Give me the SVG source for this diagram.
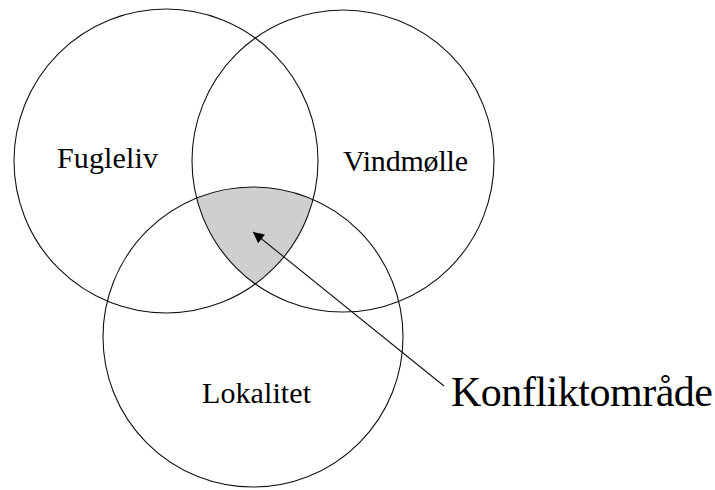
<svg xmlns="http://www.w3.org/2000/svg" width="715" height="490" viewBox="0 0 715 490">
<style>
.c{fill:none;stroke:#111;stroke-width:1.1}
.t{font-family:"Liberation Serif","Times New Roman",serif;fill:#000}
.l{font-size:30px}
</style>
<defs>
<marker id="ah" viewBox="0 0 10 10" refX="10" refY="5" markerWidth="16" markerHeight="11" markerUnits="userSpaceOnUse" orient="auto">
<path d="M0,0 L10,5 L0,10 z" fill="#000"/>
</marker>
</defs>
<rect width="715" height="490" fill="#fff"/>
<g id="conflict">
<path d="M196.6,198 A150,150 0 0 1 313,199.5 A152,152 0 0 1 254.5,284.6 A151,151 0 0 1 196.6,198 Z" fill="#cfcfcf"/>
</g>
<g id="fugleliv">
<circle class="c" cx="166" cy="161" r="152"/>
<text class="t l" x="57" y="168" textLength="101">Fugleliv</text>
</g>
<g id="vindmolle">
<circle class="c" cx="343" cy="161" r="151"/>
<text class="t l" x="343" y="171" textLength="125">Vindmølle</text>
</g>
<g id="lokalitet">
<circle class="c" cx="253" cy="337" r="150"/>
<text class="t l" x="202" y="403" textLength="109">Lokalitet</text>
</g>
<g id="konfliktomrade">
<text class="t" x="451" y="406" font-size="42" textLength="262">Konfliktområde</text>
</g>
<g id="connectors">
<line x1="444" y1="386" x2="253" y2="232" stroke="#111" stroke-width="1.1" marker-end="url(#ah)"/>
</g>
</svg>
